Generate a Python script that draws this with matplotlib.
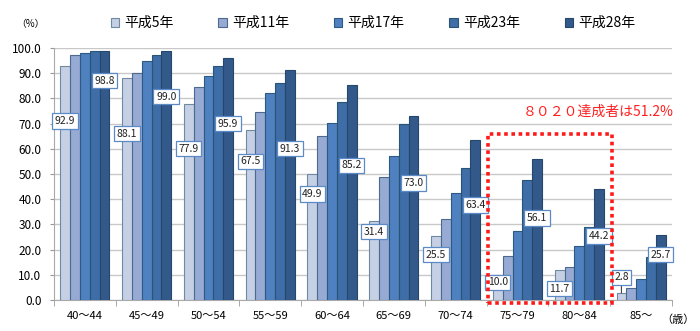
import matplotlib
matplotlib.use("Agg")
import matplotlib.pyplot as plt
import numpy as np
from matplotlib.patches import Rectangle

plt.rcParams["font.family"] = ["Noto Sans CJK JP", "DejaVu Sans"]

age_groups = ["40～44", "45～49", "50～54", "55～59", "60～64",
              "65～69", "70～74", "75～79", "80～84", "85～"]
survey_years = ["平成5年", "平成11年", "平成17年", "平成23年", "平成28年"]

h5 = [92.9, 88.1, 77.9, 67.5, 49.9, 31.4, 25.5, 10.0, 11.7, 2.8]
h11 = [97.1, 90.0, 84.4, 74.5, 65.1, 48.7, 32.0, 17.6, 13.1, 4.6]
h17 = [98.0, 95.0, 89.0, 82.3, 70.4, 57.1, 42.6, 27.2, 21.2, 8.3]
h23 = [98.7, 97.2, 93.0, 86.0, 78.4, 69.7, 52.4, 47.6, 29.0, 17.1]
h28 = [98.8, 99.0, 95.9, 91.3, 85.2, 73.0, 63.4, 56.1, 44.2, 25.7]
series = [h5, h11, h17, h23, h28]

achieved_text = "８０２０達成者は51.2%"

# where the value boxes sit (in % units)
h5_label_y = [71, 66, 60, 55, 42, 27, 18, 7, 4.4, 9]
h28_label_y = [87, 80.6, 70, 60, 53.5, 46.4, 37.7, 32.5, 25.4, 17.9]

colors = ["#c5d0e5", "#96aad3", "#4f80c0", "#3e6da7", "#33598b"]
edges = ["#6f8aa0", "#4d6a8e", "#2d5a80", "#2a5474", "#24476b"]

fig = plt.figure(figsize=(7, 3.31), dpi=100)
ax = fig.add_axes([0.077, 0.094, 0.883, 0.761])

x = np.arange(len(age_groups))
width = 0.159
offsets = (np.arange(5) - 2) * width

for vals, off, c, ec, name in zip(series, offsets, colors, edges, survey_years):
    ax.bar(x + off, vals, width, color=c, edgecolor=ec, linewidth=0.8,
           label=name, zorder=3)

box = dict(boxstyle="square,pad=0.25", fc="white", ec="#5b8ac6", lw=0.9)
for i in range(len(age_groups)):
    if i == 9:
        ax.annotate(f"{h5[i]:.1f}", xy=(x[i] + offsets[0], h5[i]),
                    xytext=(x[i] + offsets[0], h5_label_y[i]),
                    ha="center", va="center", fontsize=7.5, color="#222222",
                    bbox=box, zorder=5,
                    arrowprops=dict(arrowstyle="-", color="#444444", lw=0.8,
                                    shrinkA=0, shrinkB=0))
    else:
        ax.text(x[i] + offsets[0], h5_label_y[i], f"{h5[i]:.1f}", ha="center",
                va="center", fontsize=7.5, color="#222222", bbox=box, zorder=5)
    ax.text(x[i] + offsets[4], h28_label_y[i], f"{h28[i]:.1f}", ha="center",
            va="center", fontsize=7.5, color="#222222", bbox=box, zorder=5)

# 8020 highlight
ax.add_patch(Rectangle((6.52, -1.2), 2.01, 67.1, fill=False, ec="#ff1a1a",
                       lw=2.6, ls=(0, (1, 1)), zorder=6, clip_on=False))
ax.text(8.3, 74.6, achieved_text, ha="center", va="center", fontsize=10,
        color="#ff2020", zorder=6)

ax.set_xlim(-0.5, 9.5)
ax.set_ylim(0, 100)
ax.set_yticks(np.arange(0, 101, 10))
ax.set_yticklabels([f"{v:.1f}" for v in range(0, 101, 10)], fontsize=8.5)
ax.set_xticks(x)
ax.set_xticklabels(age_groups, fontsize=8)
ax.set_xticks(np.arange(-0.5, 10, 1), minor=True)
ax.tick_params(axis="x", which="major", length=0, pad=8)
ax.tick_params(axis="x", which="minor", length=4, color="#999999")
ax.tick_params(axis="y", length=3, color="#999999", pad=6)
ax.grid(axis="y", color="#c8c8c8", lw=1, zorder=0)
for side in ["top", "right"]:
    ax.spines[side].set_visible(False)
for side in ["left", "bottom"]:
    ax.spines[side].set_color("#aaaaaa")

fig.text(0.043, 0.928, "（%）", fontsize=7, ha="center", va="center")
fig.text(0.968, 0.033, "（歳）", fontsize=8, ha="center", va="center")

fig.legend(loc="center", bbox_to_anchor=(0.533, 0.93), ncol=5, frameon=False,
           fontsize=10, handlelength=0.6, handleheight=0.6, handletextpad=0.4,
           columnspacing=3.2)

fig.savefig("out.png", dpi=100)
